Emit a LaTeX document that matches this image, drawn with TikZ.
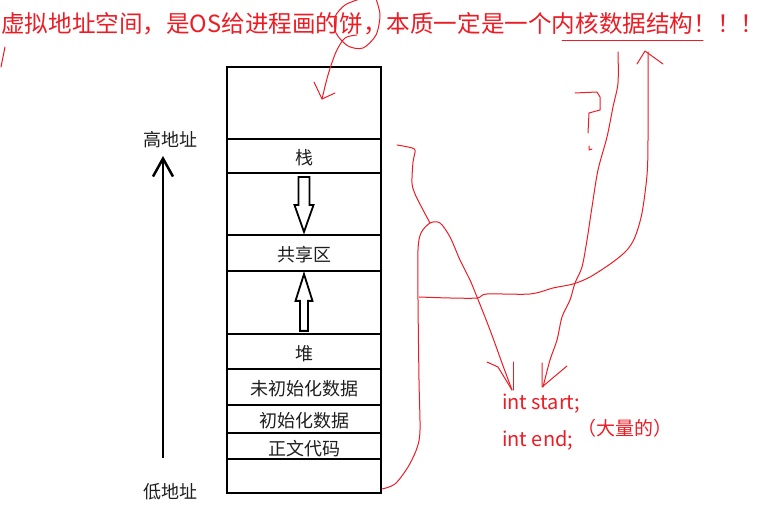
\documentclass[tikz,border=0pt]{standalone}
\usepackage{fontspec}
\setmainfont{Noto Sans CJK SC}
\usetikzlibrary{calc,arrows.meta}
\definecolor{pen}{RGB}{237,28,36}
\definecolor{ink}{RGB}{30,30,30}

\begin{document}
\begin{tikzpicture}[x=1pt, y=-1pt, font=\fontsize{18}{18}\selectfont,
  seg/.style={draw, line width=2.2pt, minimum width=154pt, inner sep=0pt, text=ink, text height=18pt, text depth=0pt},
  hollow/.style={draw, line width=1.8pt, fill=white, line join=miter},
  redline/.style={pen, line width=1pt, line join=round, line cap=round},
  redtext/.style={pen, anchor=west, inner sep=0pt}]
\useasboundingbox (0,0) rectangle (769,521);
\node[redtext, font=\fontsize{23.6}{24}\selectfont] (title) at (1,24) {虚拟地址空间，是OS给进程画的饼，本质一定是一个内核数据结构！！！};
\node[seg, minimum height=72pt] (top) at (304,103) {};
\node[seg, minimum height=34pt] (stk) at (304,156) {栈};
\node[seg, minimum height=62pt] (gapa) at (304,204) {};
\node[seg, minimum height=36pt] (shr) at (304,253) {共享区};
\node[seg, minimum height=63pt] (gapb) at (304,302.5) {};
\node[seg, minimum height=35pt] (heap) at (304,351.5) {堆};
\node[seg, minimum height=36pt] (bss) at (304,387) {未初始化数据};
\node[seg, minimum height=28pt] (data) at (304,419) {初始化数据};
\node[seg, minimum height=26pt] (code) at (304,446) {正文代码};
\node[seg, minimum height=34pt] (base) at (304,476) {};
\node[text=ink] (hi) at (170,140) {高地址};
\node[text=ink] (lo) at (170,492) {低地址};
\coordinate (abot) at (163,458);
\coordinate (atop) at (163,156);
\draw[line width=2.5pt, -{Straight Barb[length=18pt, width=20pt]}] (abot) -- (atop);
\draw[hollow] ($(stk.south)+(-5.5,3)$) -- ++(0,28) -- ++(-4,0) -- ($(shr.north)+(0,-2)$)
  -- ($(stk.south)+(9.5,31)$) -- ++(-4,0) -- ($(stk.south)+(5.5,3)$) -- cycle;
\draw[hollow] ($(heap.north)+(-4,-2)$) -- ++(0,-30) -- ++(-4.5,0) -- ($(shr.south)+(0,2)$)
  -- ($(heap.north)+(8.5,-32)$) -- ++(-4.5,0) -- ($(heap.north)+(4,-2)$) -- cycle;
\node[redtext, font=\fontsize{20}{20}\selectfont] (start) at (502,404) {int start;};
\node[redtext, font=\fontsize{20}{20}\selectfont] (end) at (502,440) {int end;};
\node[redtext, font=\fontsize{19}{19}\selectfont] (many) at (577,428) {（大量的）};
\draw[redline] (5,47) -- (1,67);
\draw[redline] plot[smooth] coordinates {(360,-1) (345,5) (335,17) (336,33) (348,46) (363,48) (376,35) (380,15) (376,-1)};
\draw[redline] plot[smooth] coordinates {(357,35) (345,38) (336,52) (328,75) (322,99)};
\draw[redline] (314,82) -- (322,99) -- (335,93);
\draw[redline] (575,93) -- (597,92) -- (600,97) -- (600,110) -- (589,113) -- (588,133);
\draw[redline] (589,146) -- (589,150) -- (592,149);
\draw[redline] (562,41) -- (703,41);
\draw[redline] plot[smooth] coordinates {(618,52) (618,83) (613,107) (607,137) (598,170) (592,207) (587,240) (582,267) (575,283) (570,300) (562,317) (557,340) (550,360) (543,387)};
\draw[redline] (542,363) -- (542,387) -- (567,366);
\draw[redline] plot[smooth] coordinates {(397,145) (408,147) (415,150) (413,162) (412,183) (415,194) (422,208) (430,223)};
\draw[redline] plot[smooth] coordinates {(382,489) (395,484) (408,467) (417,448) (420,430) (419,380) (418,300) (418,250) (421,233) (430,223) (440,223) (450,237) (460,260) (470,280) (477,297) (485,317) (493,338) (502,363) (512,390)};
\draw[redline] (487,362) -- (498,367) -- (512,390);
\draw[redline] (513,362) -- (513,390);
\draw[redline] plot[smooth] coordinates {(419,297) (450,298) (477,298) (487,294) (530,294) (553,288) (573,284) (590,277) (613,262) (627,250) (635,237) (642,213) (647,175) (648,140) (648,52)};
\draw[redline] (637,64) -- (645,51) -- (663,64);
\end{tikzpicture}
\end{document}
